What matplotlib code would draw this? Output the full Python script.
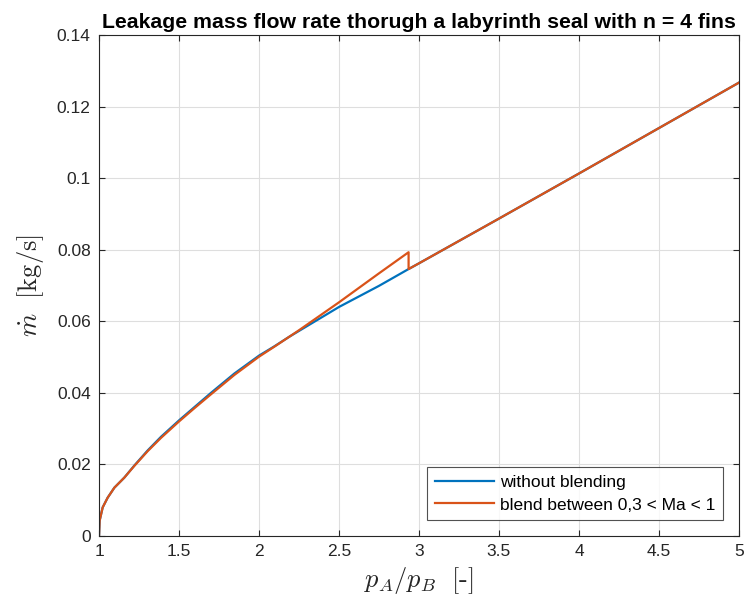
import matplotlib
matplotlib.use("Agg")
from matplotlib import pyplot as plt

plt.rcParams['font.family'] = ['Liberation Sans', 'DejaVu Sans']
plt.rcParams['mathtext.fontset'] = 'cm'

# pressure ratio and leakage mass flow, without blending
p_ratio_plain = [1.0, 1.004, 1.023, 1.054, 1.096, 1.158, 1.221, 1.304, 1.387, 1.5,
                 1.596, 1.70, 1.846, 2.0, 2.096, 2.19, 2.5, 2.75, 2.935,
                 3.0, 3.5, 4.0, 4.5, 5.0]
mdot_plain = [0.0, 0.0043, 0.0080, 0.0107, 0.0135, 0.0163, 0.0197, 0.0239, 0.0277, 0.0323,
              0.0360, 0.0400, 0.0454, 0.0504, 0.0530, 0.0557, 0.0640, 0.0699, 0.0746,
              0.0762, 0.0887, 0.1013, 0.1140, 0.1267]

# blended between 0.3 < Ma < 1
p_ratio_blend = [1.0, 1.004, 1.023, 1.054, 1.096, 1.158, 1.221, 1.304, 1.387, 1.5,
                 1.596, 1.70, 1.846, 2.0, 2.096, 2.19, 2.25, 2.5, 2.75, 2.935, 2.935,
                 3.0, 3.5, 4.0, 4.5, 5.0]
mdot_blend = [0.0, 0.0043, 0.0080, 0.0107, 0.0135, 0.0163, 0.0196, 0.0237, 0.0274, 0.0320,
              0.0357, 0.0396, 0.0450, 0.0501, 0.0529, 0.0557, 0.0575, 0.0653, 0.0734, 0.0793, 0.0746,
              0.0762, 0.0887, 0.1013, 0.1140, 0.1267]

x_ticks = [1, 1.5, 2, 2.5, 3, 3.5, 4, 4.5, 5]
y_ticks = [0, 0.02, 0.04, 0.06, 0.08, 0.1, 0.12, 0.14]

fig = plt.figure(figsize=(7.45, 6.07), dpi=100)
ax = fig.add_axes([0.1329, 0.117, 0.859, 0.8253])

ax.plot(p_ratio_plain, mdot_plain, color='#0072BD', lw=1.6, label='without blending')
ax.plot(p_ratio_blend, mdot_blend, color='#D95319', lw=1.6, label='blend between 0,3 < Ma < 1')

ax.set_xlim(1, 5)
ax.set_ylim(0, 0.14)
ax.set_xticks(x_ticks)
ax.set_xticklabels(['%g' % t for t in x_ticks])
ax.set_yticks(y_ticks)
ax.set_yticklabels(['%g' % t for t in y_ticks])

ax.grid(True, color='#dedede', lw=0.8)
ax.set_axisbelow(True)
for s in ax.spines.values():
    s.set_color('#262626')
    s.set_linewidth(0.8)
ax.tick_params(direction='in', top=True, right=True, length=4, width=0.8,
               colors='#262626', labelsize=12.5, pad=6)

ax.set_title('Leakage mass flow rate thorugh a labyrinth seal with n = 4 fins',
             fontsize=15.3, fontweight='bold', pad=5)
ax.set_xlabel(r'$p_A/p_B\ \ [\text{-}]$', fontsize=19, color='#262626', labelpad=4)
ax.set_ylabel(r'$\dot{m}\ \ [\mathrm{kg/s}]$', fontsize=19, color='#262626', labelpad=8)

leg = ax.legend(loc='lower right', fontsize=12.5, frameon=True, fancybox=False,
                edgecolor='#262626', handlelength=3.4, handletextpad=0.35,
                borderaxespad=0.9, labelspacing=0.4, borderpad=0.45)
leg.get_frame().set_linewidth(0.8)

plt.savefig('out.png', dpi=100)
